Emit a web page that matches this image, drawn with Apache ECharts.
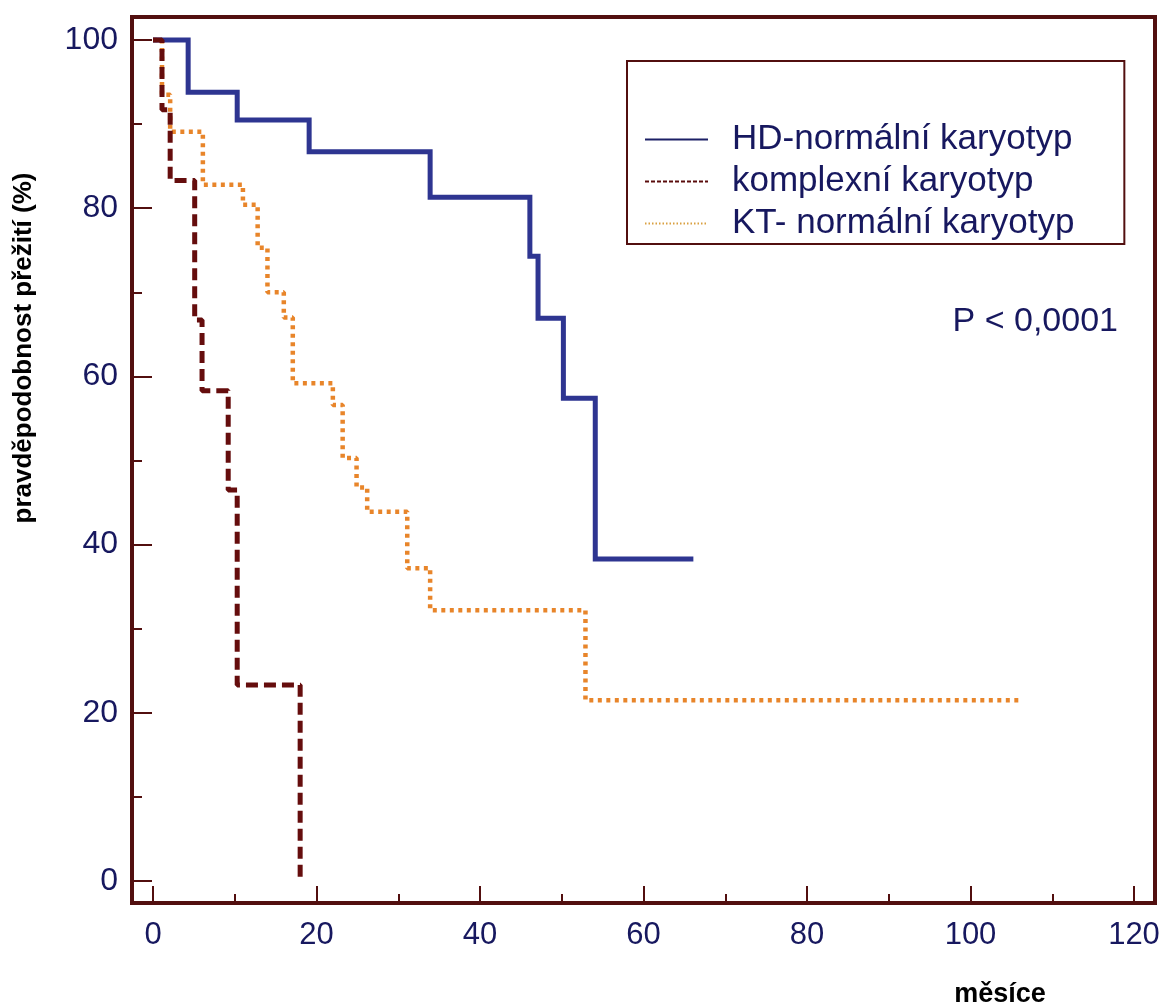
<!DOCTYPE html>
<html>
<head>
<meta charset="utf-8">
<script src="https://cdn.jsdelivr.net/npm/echarts@6/dist/echarts.min.js"></script>
<style>
html,body{margin:0;padding:0;background:#fff;}
#chart{width:1165px;height:1008px;}
</style>
</head>
<body>
<div id="chart"></div>
<script>
// ---- data ----
const seriesNames = ['HD-normální karyotyp', 'komplexní karyotyp', 'KT- normální karyotyp'];
const hdMonths = [0, 4.3, 10.3, 19.1, 33.9, 46.1, 47.1, 50.2, 54.1, 66.1];
const hdSurv   = [100, 93.8, 90.5, 86.7, 81.3, 74.3, 66.9, 57.4, 38.3, 38.3];
const cxMonths = [0, 1.1, 2.1, 5.1, 6.0, 9.2, 10.3, 18.0];
const cxSurv   = [100, 91.7, 83.3, 66.7, 58.3, 46.5, 23.3, 0];
const ktMonths = [0, 1.1, 2.1, 6.1, 11.0, 12.8, 14.0, 16.0, 17.1, 22.0, 23.2, 24.9, 26.2, 31.1, 33.9, 52.9, 106];
const ktSurv   = [100, 93.5, 89.1, 82.8, 80.4, 75.3, 70.0, 67.0, 59.2, 56.6, 50.3, 46.8, 43.9, 37.2, 32.2, 21.5, 21.5];
const xMin = 0, xMax = 120, xStep = 20;
const yMin = 0, yMax = 100, yStep = 20;
const yTitle = 'pravděpodobnost přežití (%)';
const xTitle = 'měsíce';
const pText = 'P < 0,0001';

function zip(a, b) { return a.map((v, i) => [v, b[i]]); }

const FRAME = '#520f0f';
const NAVY = '#17185f';
const FONT = '"Liberation Sans", Arial, Helvetica, sans-serif';

const chart = echarts.init(document.getElementById('chart'), null, {renderer: 'canvas'});
chart.setOption({
  animation: false,
  backgroundColor: '#ffffff',
  grid: [
    {left: 153, right: 31, top: 40, bottom: 127, show: false},
    {left: 132, right: 10, top: 17, bottom: 105, show: true, borderColor: FRAME, borderWidth: 4, backgroundColor: 'transparent', z: 0}
  ],
  xAxis: [
    {
      type: 'value', gridIndex: 0, min: xMin, max: xMax, interval: xStep, offset: 22, position: 'bottom',
      axisLine: {show: false, onZero: false},
      axisTick: {show: true, inside: true, length: 17, lineStyle: {color: FRAME, width: 2}},
      minorTick: {show: true, splitNumber: 2, length: 9, lineStyle: {color: FRAME, width: 2}},
      splitLine: {show: false},
      axisLabel: {margin: 17, fontSize: 31, color: NAVY, fontFamily: FONT}
    },
    {type: 'value', gridIndex: 1, show: false, min: 0, max: 1}
  ],
  yAxis: [
    {
      type: 'value', gridIndex: 0, min: yMin, max: yMax, interval: yStep, offset: 21, position: 'left',
      axisLine: {show: false, onZero: false},
      axisTick: {show: true, inside: true, length: 20, lineStyle: {color: FRAME, width: 2}},
      minorTick: {show: true, splitNumber: 2, length: 10, lineStyle: {color: FRAME, width: 2}},
      splitLine: {show: false},
      axisLabel: {margin: 14, fontSize: 32, color: NAVY, fontFamily: FONT}
    },
    {type: 'value', gridIndex: 1, show: false, min: 0, max: 1}
  ],
  legend: {
    orient: 'vertical',
    left: 627, top: 61,
    padding: [61, 50, 3, 17],
    itemGap: 7,
    itemWidth: 63,
    itemHeight: 14,
    borderColor: FRAME,
    borderWidth: 2,
    backgroundColor: '#ffffff',
    selectedMode: false,
    itemStyle: {color: 'transparent', borderWidth: 0, opacity: 0},
    textStyle: {fontSize: 35, color: NAVY, fontFamily: FONT, lineHeight: 34, padding: [0, 0, 0, 19]},
    data: [
      {name: seriesNames[0], itemStyle: {opacity: 0}, lineStyle: {width: 2, color: '#1c2066', type: 'solid'}},
      {name: seriesNames[1], itemStyle: {opacity: 0}, lineStyle: {width: 2, color: '#5a0c0c', type: [4, 2]}},
      {name: seriesNames[2], itemStyle: {opacity: 0}, lineStyle: {width: 2, color: '#d9a040', type: [1.5, 2]}}
    ]
  },
  series: [
    {
      name: seriesNames[0], type: 'line', step: 'end', xAxisIndex: 0, yAxisIndex: 0,
      data: zip(hdMonths, hdSurv), symbol: 'none', clip: false, z: 3,
      lineStyle: {color: '#2e3591', width: 5, cap: 'butt', join: 'miter'}, itemStyle: {color: '#2e3591'}
    },
    {
      name: seriesNames[1], type: 'line', step: 'end', xAxisIndex: 0, yAxisIndex: 0,
      data: zip(cxMonths, cxSurv), symbol: 'none', clip: false, z: 4,
      lineStyle: {color: '#650d0d', width: 5, type: [12, 6], cap: 'butt'}, itemStyle: {color: '#650d0d'}
    },
    {
      name: seriesNames[2], type: 'line', step: 'end', xAxisIndex: 0, yAxisIndex: 0,
      data: zip(ktMonths, ktSurv), symbol: 'none', clip: false, z: 2,
      lineStyle: {color: '#e8852a', width: 4.5, type: [4, 4.5], cap: 'butt'}, itemStyle: {color: '#e8852a'}
    }
  ],
  graphic: [
    {
      type: 'text', x: 24, y: 348, rotation: Math.PI / 2,
      style: {text: yTitle, fill: '#000', font: 'bold 26px ' + FONT, textAlign: 'center', textVerticalAlign: 'middle'}
    },
    {
      type: 'text', x: 1000, y: 995,
      style: {text: xTitle, fill: '#000', font: 'bold 27px ' + FONT, textAlign: 'center', textVerticalAlign: 'middle'}
    },
    {
      type: 'text', x: 1118, y: 322,
      style: {text: pText, fill: NAVY, font: '34px ' + FONT, textAlign: 'right', textVerticalAlign: 'middle'}
    }
  ]
});
</script>
</body>
</html>
